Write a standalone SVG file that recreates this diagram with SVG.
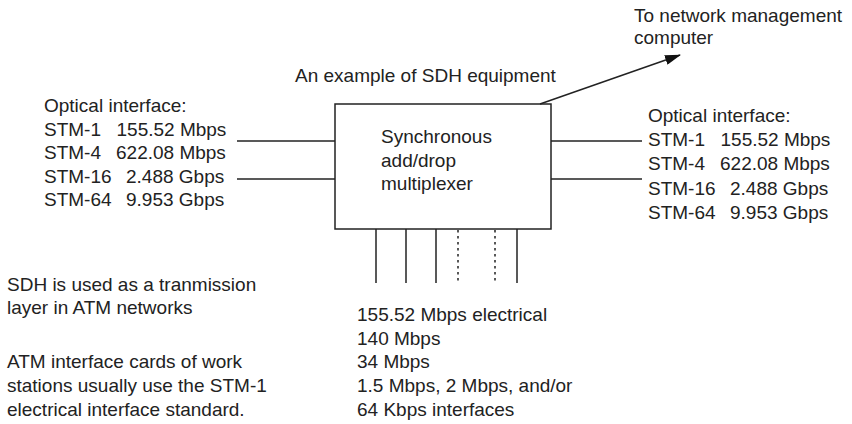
<svg xmlns="http://www.w3.org/2000/svg" width="852" height="424" viewBox="0 0 852 424">
<style>
text{font-family:"Liberation Sans",Arial,sans-serif;font-size:19px;fill:#222}
.ln{stroke:#222;stroke-width:1.5;fill:none}
.dot{stroke:#222;stroke-width:1.5;fill:none;stroke-dasharray:2.5 3.5}
</style>
<defs>
<marker id="ah" viewBox="0 0 16 10" refX="15" refY="5" markerWidth="16" markerHeight="10" markerUnits="userSpaceOnUse" orient="auto">
<path d="M0,0 L16,5 L0,10 Z" fill="#111"/>
</marker>
</defs>
<rect width="852" height="424" fill="#fff"/>
<g id="connectors">
<line class="ln" x1="237" y1="141" x2="335" y2="141"/>
<line class="ln" x1="237" y1="179" x2="335" y2="179"/>
<line class="ln" x1="551" y1="141" x2="642" y2="141"/>
<line class="ln" x1="551" y1="179" x2="642" y2="179"/>
<line class="ln" x1="376" y1="229" x2="376" y2="283"/>
<line class="ln" x1="406" y1="229" x2="406" y2="283"/>
<line class="ln" x1="436" y1="229" x2="436" y2="283"/>
<line class="dot" x1="458" y1="230" x2="458" y2="283"/>
<line class="dot" x1="495" y1="230" x2="495" y2="283"/>
<line class="ln" x1="517" y1="229" x2="517" y2="283"/>
<line class="ln" x1="540" y1="104" x2="680" y2="55" marker-end="url(#ah)"/>
</g>
<g id="adm">
<rect class="ln" x="335" y="104" width="216" height="125" fill="#fff"/>
<text x="381" y="143">Synchronous</text>
<text x="381" y="167">add/drop</text>
<text x="381" y="190">multiplexer</text>
</g>
<g id="title">
<text x="295" y="81.5">An example of SDH equipment</text>
</g>
<g id="nms">
<text x="634" y="21.5">To network management</text>
<text x="634" y="43.5">computer</text>
</g>
<g id="optical-left">
<text x="44" y="111.5">Optical interface:</text>
<text x="44" y="135.5">STM-1</text><text x="116.5" y="135.5">155.52 Mbps</text>
<text x="44" y="159">STM-4</text><text x="116" y="159">622.08 Mbps</text>
<text x="44" y="182.5">STM-16</text><text x="126" y="182.5">2.488 Gbps</text>
<text x="44" y="206">STM-64</text><text x="126" y="206">9.953 Gbps</text>
</g>
<g id="optical-right">
<text x="648" y="122">Optical interface:</text>
<text x="648" y="146">STM-1</text><text x="720.5" y="146">155.52 Mbps</text>
<text x="648" y="170">STM-4</text><text x="720" y="170">622.08 Mbps</text>
<text x="648" y="194.5">STM-16</text><text x="730" y="194.5">2.488 Gbps</text>
<text x="648" y="218.5">STM-64</text><text x="730" y="218.5">9.953 Gbps</text>
</g>
<g id="electrical">
<text x="357" y="321">155.52 Mbps electrical</text>
<text x="357" y="344.5">140 Mbps</text>
<text x="357" y="368">34 Mbps</text>
<text x="357" y="391.5">1.5 Mbps, 2 Mbps, and/or</text>
<text x="357" y="415.5">64 Kbps interfaces</text>
</g>
<g id="notes">
<text x="7" y="290.5">SDH is used as a tranmission</text>
<text x="7" y="314">layer in ATM networks</text>
<text x="7" y="368">ATM interface cards of work</text>
<text x="7" y="391.5">stations usually use the STM-1</text>
<text x="7" y="415.5">electrical interface standard.</text>
</g>
</svg>
